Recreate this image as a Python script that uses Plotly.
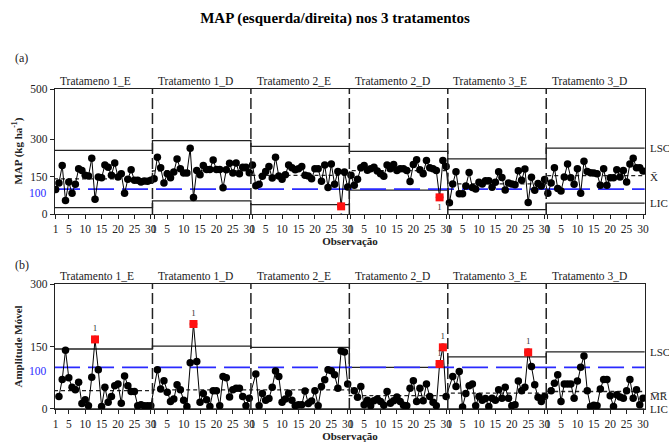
import plotly.graph_objects as go

# ---------------- data ----------------
phase_labels_a = ["Tratameno 1_E", "Tratamento 1_D", "Tratamento 2_E",
                  "Tratamento 2_D", "Tratamento 3_E", "Tratamento 3_D"]
phase_labels_b = ["Tratamento 1_E", "Tratamento 1_D", "Tratamento 2_E",
                  "Tratamento 2_D", "Tratamento 3_E", "Tratamento 3_D"]
obs_in_phase_ticks = [1, 5, 10, 15, 20, 25, 30]
n_per_phase = 30

# (a) individual values, MAP (kg ha-1)
map_t1e = [98, 124, 194, 54, 128, 83, 119, 181, 174, 155, 152, 223, 59, 148, 145,
           196, 187, 155, 204, 148, 161, 83, 139, 177, 135, 135, 128, 132, 131, 135]
map_t1d = [141, 227, 185, 124, 161, 145, 168, 220, 181, 164, 164, 263, 66, 174, 157,
           194, 178, 178, 216, 178, 178, 105, 177, 203, 164, 204, 161, 187, 187, 165]
map_t2e = [196, 113, 119, 151, 170, 190, 144, 227, 152, 139, 157, 196, 185, 177, 181,
           190, 155, 152, 141, 181, 181, 131, 196, 106, 200, 119, 170, 31, 168, 108]
map_t2d = [155, 115, 139, 185, 194, 175, 181, 187, 172, 161, 151, 196, 181, 198, 174,
           181, 181, 174, 130, 198, 217, 177, 161, 214, 185, 181, 174, 67, 214, 190]
map_t3e = [45, 120, 169, 81, 81, 112, 166, 106, 100, 127, 120, 133, 133, 107, 127,
           169, 146, 96, 124, 120, 117, 173, 135, 180, 46, 147, 95, 122, 112, 138]
map_t3d = [83, 124, 185, 102, 92, 148, 200, 145, 119, 181, 83, 211, 170, 165, 164,
           161, 115, 181, 115, 145, 145, 177, 148, 174, 128, 200, 223, 185, 185, 172]

# (b) moving ranges (observations 2..30 of each phase)
mr_t1e = [30, 71, 141, 75, 52, 46, 64, 13, 22, 8, 76, 167, 94, 6, 52,
          16, 30, 56, 60, 14, 79, 56, 42, 42, 8, 10, 8, 8, 8]
mr_t1d = [94, 48, 68, 40, 18, 24, 58, 46, 21, 6, 111, 204, 114, 16, 37,
          22, 6, 44, 44, 8, 78, 75, 29, 46, 50, 50, 30, 8, 26]
mr_t2e = [84, 8, 37, 21, 25, 52, 91, 78, 16, 24, 38, 21, 8, 10, 10,
          43, 13, 19, 44, 8, 54, 70, 94, 92, 82, 50, 139, 137, 60]
mr_t2d = [44, 28, 54, 10, 21, 8, 20, 24, 18, 9, 42, 14, 20, 29, 18,
          9, 8, 50, 68, 18, 50, 20, 60, 30, 16, 8, 108, 148, 30]
mr_t3e = [78, 54, 90, 5, 37, 56, 60, 8, 30, 21, 25, 6, 26, 21, 46,
          26, 52, 26, 8, 10, 67, 44, 52, 136, 102, 58, 28, 18, 30]
mr_t3d = [44, 62, 82, 18, 60, 60, 60, 26, 67, 100, 127, 44, 6, 9, 8,
          48, 71, 71, 32, 6, 34, 29, 26, 44, 71, 26, 46, 10, 26]

# control limits per phase
lsc_a = [255, 294, 271, 251, 221, 264]
center_a = [141, 173, 155, 174, 121, 154]
lic_a = [26, 53, 38, 96, 18, 44]
lsc_b = [144, 151, 148, 100, 125, 137]
center_b = [44, 46, 46, 32, 38, 42]
lic_b = [0, 0, 0, 0, 0, 0]
reference_value = 100

flag_obs_a = [88, 118]
flag_obs_b = [13, 43, 118, 119, 145]

# ---------------- build ----------------
map_phases = [map_t1e, map_t1d, map_t2e, map_t2d, map_t3e, map_t3d]
mr_phases = [mr_t1e, mr_t1d, mr_t2e, mr_t2d, mr_t3e, mr_t3d]
n_phases = len(map_phases)

xa, ya = [], []
for p, vals in enumerate(map_phases):
    for i, v in enumerate(vals):
        xa.append(p * n_per_phase + i + 1)
        ya.append(v)
xb, yb = [], []
for p, vals in enumerate(mr_phases):
    for i, v in enumerate(vals):
        xb.append(p * n_per_phase + i + 2)
        yb.append(v)

edges = [p * n_per_phase + 0.5 for p in range(n_phases + 1)]

SERIF = "Liberation Serif, Times New Roman, serif"
BLUE = "#2a2aff"
INK = "#222222"

fig = go.Figure()


def add_chart(xref, yref, xs, ys, lsc, cen, lic, flags, ymax, labels, lab_above):
    # control limits as step lines
    for lim, dash in ((lsc, "solid"), (lic, "solid"), (cen, "4px,3px")):
        fig.add_trace(go.Scatter(
            x=edges, y=lim + [lim[-1]], mode="lines", line_shape="hv",
            line=dict(color=INK, width=1.3, dash=dash),
            xaxis=xref, yaxis=yref, hoverinfo="skip", showlegend=False))
    # reference line
    fig.add_trace(go.Scatter(
        x=[edges[0], edges[-1]], y=[reference_value, reference_value], mode="lines",
        line=dict(color=BLUE, width=1.6, dash="26px,8px"),
        xaxis=xref, yaxis=yref, hoverinfo="skip", showlegend=False))
    # data
    fig.add_trace(go.Scatter(
        x=xs, y=ys, mode="lines+markers",
        line=dict(color="black", width=1),
        marker=dict(symbol="circle", size=7.5, color="black"),
        xaxis=xref, yaxis=yref, showlegend=False))
    fy = [ys[xs.index(o)] for o in flags]
    fig.add_trace(go.Scatter(
        x=flags, y=fy, mode="markers+text", text=["1"] * len(flags),
        textposition="top center" if lab_above else "bottom center",
        textfont=dict(family=SERIF, size=9, color="#333"),
        marker=dict(symbol="square", size=8, color="#ff1010"),
        xaxis=xref, yaxis=yref, showlegend=False))
    # phase boundaries
    for b in edges[1:-1]:
        fig.add_shape(type="line", x0=b, x1=b, y0=0, y1=ymax,
                      xref=xref, yref=yref,
                      line=dict(color=INK, width=1.5, dash="11px,4px"))
    # phase labels
    for p, lab in enumerate(labels):
        fig.add_annotation(x=p * n_per_phase + 1, y=ymax, xref=xref, yref=yref,
                           text=lab, showarrow=False, xanchor="left",
                           yanchor="bottom", xshift=2, yshift=0,
                           font=dict(family=SERIF, size=11.5, color=INK))


add_chart("x", "y", xa, ya, lsc_a, center_a, lic_a, flag_obs_a, 500, phase_labels_a, False)
add_chart("x2", "y2", xb, yb, lsc_b, center_b, lic_b, flag_obs_b, 300, phase_labels_b, True)

tickvals, ticktext = [], []
for p in range(n_phases):
    for t in obs_in_phase_ticks:
        tickvals.append(p * n_per_phase + t)
        ticktext.append(str(t))

xcommon = dict(range=[0.8, 180.6], tickvals=tickvals, ticktext=ticktext,
               tickangle=0,
               ticks="outside", ticklen=4, tickcolor=INK, showline=True,
               linecolor=INK, linewidth=1.3, mirror=True, showgrid=False,
               zeroline=False, automargin=False,
               tickfont=dict(family=SERIF, size=11.5, color=INK),
               title=dict(text="<b>Observação</b>", standoff=2,
                          font=dict(family=SERIF, size=11, color=INK)))
ycommon = dict(ticks="outside", ticklen=4, tickcolor=INK, showline=True,
               linecolor=INK, linewidth=1.3, mirror=True, showgrid=False,
               zeroline=False, automargin=False,
               tickfont=dict(family=SERIF, size=11.5, color=INK))

W, H = 669, 443
fig.update_layout(
    width=W, height=H,
    margin=dict(l=55, r=24, t=89, b=34),
    paper_bgcolor="white", plot_bgcolor="white",
    xaxis=dict(domain=[0, 1], anchor="y", **xcommon),
    yaxis=dict(domain=[0.609, 1], anchor="x", range=[0, 500],
               tickvals=[0, 150, 300, 500], **ycommon),
    xaxis2=dict(domain=[0, 1], anchor="y2", **xcommon),
    yaxis2=dict(domain=[0, 0.3906], anchor="x2", range=[0, 300],
                tickvals=[0, 150, 300], **ycommon),
    title=dict(text="<b>MAP (esquerda/direita) nos 3 tratamentos</b>",
               x=335 / W, xref="container", xanchor="center",
               y=1 - 18 / H, yref="container", yanchor="middle",
               font=dict(family=SERIF, size=15, color="black")),
    showlegend=False,
)

# y titles
for yref, yval, txt in (("y", 250, "<b>MAP (kg ha<sup>-1</sup>)</b>"),
                        ("y2", 150, "<b>Amplitude Móvel</b>")):
    fig.add_annotation(x=0, xref="paper", y=yval, yref=yref, text=txt,
                       textangle=-90, showarrow=False, xanchor="center",
                       xshift=-37, font=dict(family=SERIF, size=11, color=INK))
# panel letters
fig.add_annotation(x=0, xref="paper", y=1, yref="paper", text="(a)",
                   showarrow=False, xanchor="left", yanchor="bottom",
                   xshift=-42, yshift=22, font=dict(family=SERIF, size=12, color=INK))
fig.add_annotation(x=0, xref="paper", y=0.3906, yref="paper", text="(b)",
                   showarrow=False, xanchor="left", yanchor="bottom",
                   xshift=-42, yshift=10, font=dict(family=SERIF, size=12, color=INK))
# blue reference labels
for yref in ("y", "y2"):
    fig.add_annotation(x=0, xref="paper", y=reference_value, yref=yref,
                       text=str(reference_value), showarrow=False,
                       xanchor="right", xshift=-6, yshift=-4,
                       font=dict(family=SERIF, size=11.5, color=BLUE))
# right side labels
right = [("y", lsc_a[-1], "LSC"), ("y", center_a[-1] - 6, "X\u0304"), ("y", lic_a[-1], "LIC"),
         ("y2", lsc_b[-1], "LSC"), ("y2", center_b[-1] - 10, "M\u0305R\u0305"), ("y2", lic_b[-1], "LIC")]
for yref, yv, txt in right:
    fig.add_annotation(x=1, xref="paper", y=yv, yref=yref, text=txt,
                       showarrow=False, xanchor="left", xshift=3,
                       font=dict(family=SERIF, size=11, color=INK))

fig.write_html("out.html",
               config={"displayModeBar": False},
               post_script="document.body.style.margin='0px';"
                           "document.documentElement.style.overflow='hidden';")
